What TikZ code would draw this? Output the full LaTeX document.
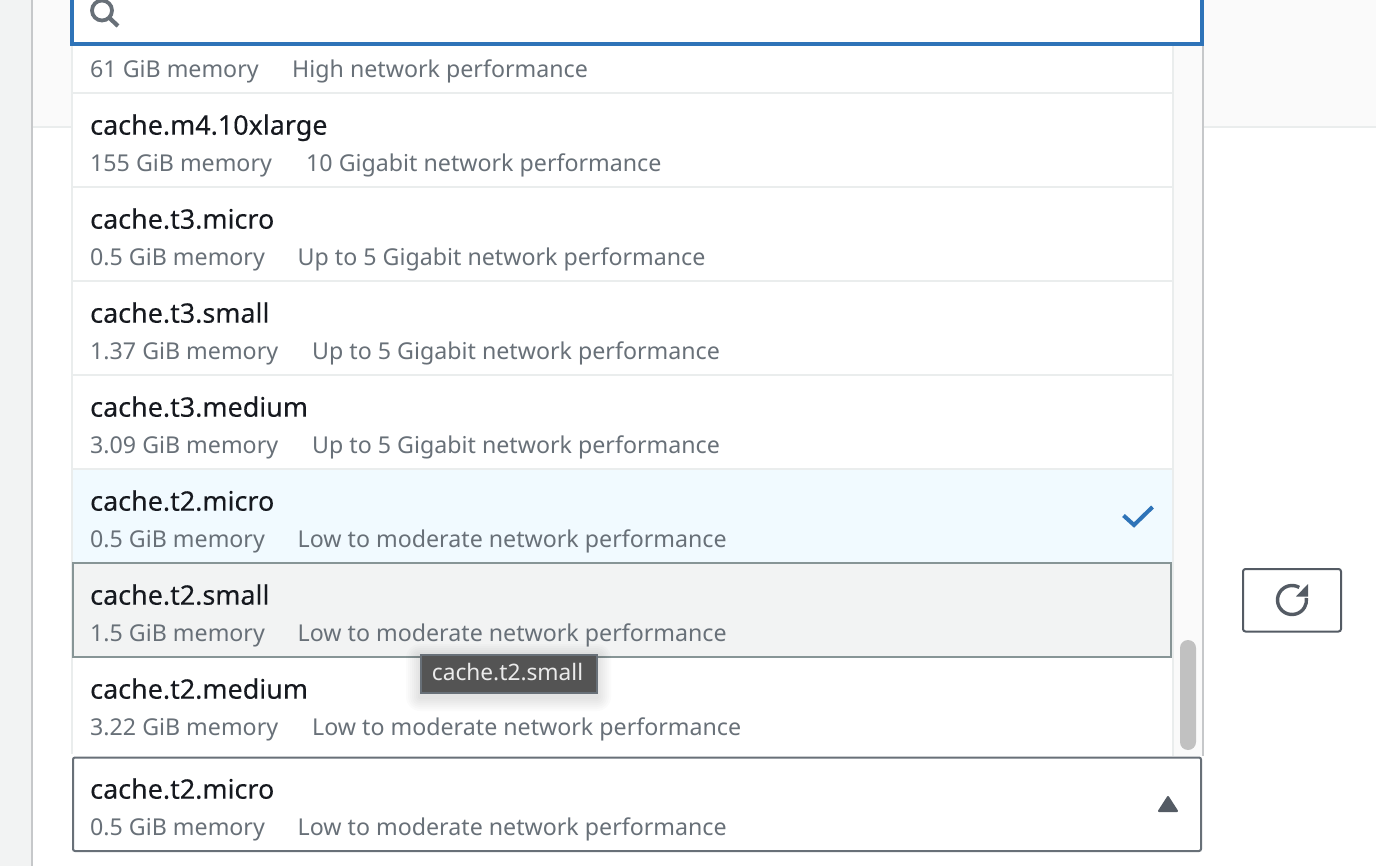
\documentclass[tikz,border=0pt]{standalone}
\usepackage{fontspec}
\setmainfont{Noto Sans}
\newfontfamily\titlefont[FakeBold=0.15]{Noto Sans}
\usetikzlibrary{calc}
\definecolor{pagebg}{HTML}{F2F3F3}
\definecolor{headbg}{HTML}{FAFAFA}
\definecolor{sep}{HTML}{EAEDED}
\definecolor{edge}{HTML}{C6C8CA}
\definecolor{blueb}{HTML}{2E73B8}
\definecolor{selbg}{HTML}{F1FAFF}
\definecolor{hovb}{HTML}{879596}
\definecolor{titlec}{HTML}{16191F}
\definecolor{subc}{HTML}{687078}
\definecolor{dark}{HTML}{545B64}
\definecolor{thumb}{HTML}{C1C1C1}
\definecolor{tipbg}{HTML}{545454}
\tikzset{
  x=1pt,y=-1pt,
  titletext/.style={anchor=base west,inner sep=0pt,text=titlec,font=\titlefont\fontsize{26.9}{30}\selectfont},
  subtext/.style={anchor=base west,inner sep=0pt,text=subc,font=\fontsize{23.2}{28}\selectfont},
  rowsep/.style={draw=sep,line width=2pt},
}
% \rowtext{id}{title}{memory}{network}{title baseline}{network x}
\newcommand{\rowtext}[6]{%
  \node[titletext] (t#1) at (90,#5+0.7) {#2};
  \node[subtext] (m#1) at (90,#5+37.6) {#3};
  \node[subtext] (n#1) at (#6,#5+37.6) {#4};
}
\begin{document}
\begin{tikzpicture}
\useasboundingbox (0,0) rectangle (1376,866);
\fill[white] (0,0) rectangle (1376,866);
\fill[pagebg] (0,0) rectangle (31,866);
\fill[edge] (31,0) rectangle (32.5,866);
\fill[headbg] (32.5,0) rectangle (1376,126);
\fill[sep] (32.5,126) rectangle (1376,128);
% dropdown panel
\fill[white] (72,44) rectangle (1173,756);
\fill[headbg] (1173,44) rectangle (1203,756);
\fill[sep] (1172,44) rectangle (1174,756);
\fill[edge] (1202,44) rectangle (1204,756);
\fill[sep] (71,44) rectangle (73,754);
% rows
\foreach \yy in {93,187,281,375,469}{\draw[rowsep] (72,\yy) -- (1172,\yy);}
\fill[selbg] (73,470) rectangle (1172,562);
\draw[draw=hovb,fill=pagebg,line width=2pt] (73,563.2) rectangle (1171,657);
% search box
\draw[draw=blueb,fill=white,line width=4pt] (72,-5) rectangle (1202,43.8);
\draw[subc,line width=3.8pt] (102,10.5) circle (10);
\draw[subc,line width=4.2pt] (109.5,18) -- (118,26);
% list texts
\node[subtext] (mtop) at (90,77.6) {61 GiB memory};
\node[subtext] (ntop) at (292,77.6) {High network performance};
\rowtext{a}{cache.m4.10xlarge}{155 GiB memory}{10 Gigabit network performance}{134}{306}
\rowtext{b}{cache.t3.micro}{0.5 GiB memory}{Up to 5 Gigabit network performance}{228}{297.5}
\rowtext{c}{cache.t3.small}{1.37 GiB memory}{Up to 5 Gigabit network performance}{322}{312}
\rowtext{d}{cache.t3.medium}{3.09 GiB memory}{Up to 5 Gigabit network performance}{416}{312}
\rowtext{e}{cache.t2.micro}{0.5 GiB memory}{Low to moderate network performance}{510}{297.5}
\rowtext{f}{cache.t2.small}{1.5 GiB memory}{Low to moderate network performance}{604}{297.5}
\rowtext{g}{cache.t2.medium}{3.22 GiB memory}{Low to moderate network performance}{698}{312}
% check mark
\draw[blueb,line width=4pt] (1123.5,515.5) -- (1134,525) -- (1152.5,507);
% scrollbar thumb
\fill[thumb,rounded corners=8pt] (1180,640) rectangle (1196,750);
% tooltip
\foreach \g in {14,12,10,8,6,4,2}{\fill[black,opacity=0.014,rounded corners=\g pt] (420-\g,654+4-\g) rectangle (597+\g,693+4+\g);}
\node[draw=subc,fill=tipbg,line width=1.5pt,minimum width=176pt,minimum height=38pt,inner sep=0pt,anchor=north west] (tip) at (420,654.3) {};
\node[anchor=base,inner sep=0pt,text=white!92!black,font=\fontsize{22.7}{26}\selectfont] (tiptext) at (507.5,680) {cache.t2.small};
% bottom select
\draw[draw=subc,fill=white,line width=2pt,rounded corners=2pt] (73,757.5) rectangle (1201,851);
\rowtext{h}{cache.t2.micro}{0.5 GiB memory}{Low to moderate network performance}{798}{297.5}
\draw[fill=dark,draw=dark,line width=2pt,line join=round] (1168,797) -- (1177,811) -- (1159,811) -- cycle;
% refresh button
\draw[draw=dark,line width=2pt,rounded corners=2.5pt] (1243,569) rectangle (1341,631.5);
\draw[dark,line width=3.4pt] (1292,600) ++(-60:14.5) arc[start angle=-60,end angle=-368,radius=14.5];
\fill[dark] (1308,584) -- (1308,596.5) -- (1296,596.5) -- cycle;
\end{tikzpicture}
\end{document}
